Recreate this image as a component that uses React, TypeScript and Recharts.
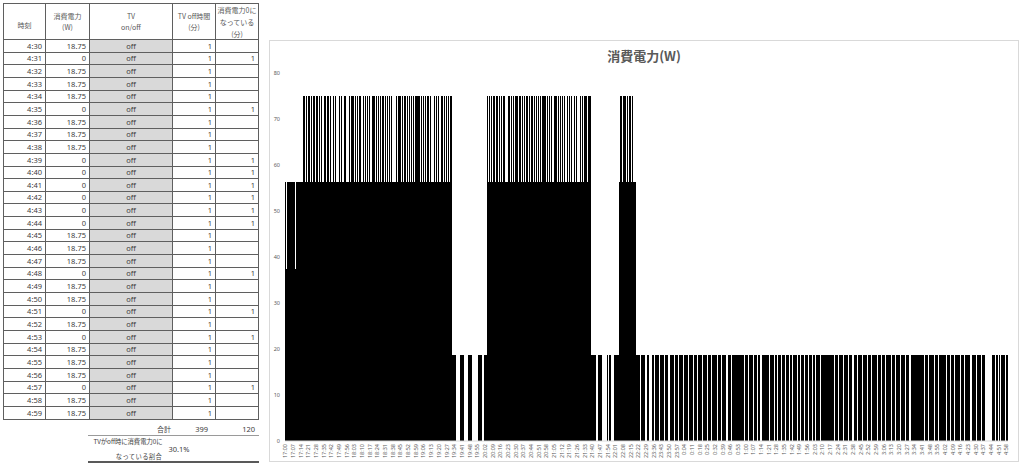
import React from 'react';
import { BarChart, Bar, XAxis, YAxis } from 'recharts';

// 消費電力(W) per minute (the meter steps in 18.75 W)
const w1700 = [
  56.25, 37.5, 56.25, 56.25, 56.25, 56.25, 56.25, 56.25, 56.25, 37.5,
  56.25, 56.25, 56.25, 56.25, 56.25, 56.25, 75, 75, 56.25, 75,
  56.25, 75, 75, 56.25, 75, 56.25, 75, 56.25, 75, 75,
  56.25, 75, 56.25, 75, 56.25, 56.25, 75, 56.25, 75, 75,
  56.25, 75, 56.25, 56.25, 75, 56.25, 75, 56.25, 56.25, 75,
  56.25, 75, 56.25, 56.25, 75, 75, 56.25, 56.25, 75, 56.25,
];
const w1800 = [
  75, 75, 75, 56.25, 75, 56.25, 75, 56.25, 75, 56.25,
  56.25, 75, 56.25, 75, 56.25, 75, 56.25, 75, 56.25, 75,
  75, 75, 56.25, 75, 56.25, 75, 56.25, 75, 56.25, 75,
  56.25, 75, 56.25, 75, 56.25, 75, 56.25, 75, 56.25, 56.25,
  56.25, 75, 56.25, 75, 75, 75, 56.25, 75, 56.25, 75,
  56.25, 75, 56.25, 75, 56.25, 75, 56.25, 75, 56.25, 75,
];
const w1900 = [
  75, 75, 75, 56.25, 75, 56.25, 75, 56.25, 75, 56.25,
  75, 56.25, 75, 56.25, 56.25, 56.25, 75, 56.25, 75, 56.25,
  75, 56.25, 75, 75, 56.25, 75, 56.25, 75, 56.25, 75,
  56.25, 75, 18.75, 18.75, 18.75, 18.75, 0, 0, 0, 0,
  18.75, 18.75, 18.75, 0, 0, 0, 0, 18.75, 18.75, 18.75,
  18.75, 0, 0, 0, 0, 0, 18.75, 18.75, 18.75, 18.75,
];
const w2000 = [
  0, 0, 18.75, 18.75, 75, 56.25, 75, 56.25, 75, 56.25,
  75, 75, 56.25, 75, 56.25, 75, 56.25, 75, 56.25, 75,
  75, 56.25, 56.25, 56.25, 75, 56.25, 75, 56.25, 75, 56.25,
  75, 75, 75, 56.25, 75, 56.25, 75, 56.25, 75, 56.25,
  75, 75, 56.25, 75, 56.25, 75, 56.25, 75, 56.25, 75,
  56.25, 75, 56.25, 75, 56.25, 75, 75, 75, 56.25, 75,
];
const w2100 = [
  56.25, 75, 56.25, 75, 56.25, 56.25, 75, 75, 56.25, 75,
  56.25, 75, 56.25, 75, 56.25, 75, 56.25, 75, 56.25, 75,
  56.25, 75, 56.25, 56.25, 75, 56.25, 75, 56.25, 56.25, 75,
  56.25, 75, 56.25, 75, 75, 75, 56.25, 75, 75, 18.75,
  18.75, 18.75, 18.75, 18.75, 0, 0, 18.75, 18.75, 18.75, 0,
  0, 0, 0, 0, 18.75, 0, 18.75, 18.75, 0, 0,
];
// 22:00 - 22:35, then the log jumps to 23:36
const w2200 = [
  18.75, 18.75, 18.75, 18.75, 18.75, 56.25, 75, 75, 56.25, 75,
  75, 56.25, 75, 56.25, 75, 75, 56.25, 75, 56.25, 56.25,
  18.75, 18.75, 18.75, 18.75, 0, 18.75, 18.75, 18.75, 18.75, 0,
  18.75, 18.75, 0, 0, 0, 18.75,
];
const w2336 = [
  18.75, 0, 18.75, 18.75, 18.75, 0, 18.75, 18.75, 18.75, 18.75,
  0, 18.75, 18.75, 18.75, 0, 18.75, 18.75, 18.75, 18.75, 0,
  18.75, 18.75, 18.75, 0,
];
const w0000 = [
  18.75, 18.75, 18.75, 0, 18.75, 18.75, 18.75, 18.75, 0, 18.75,
  18.75, 18.75, 0, 18.75, 18.75, 18.75, 0, 18.75, 18.75, 18.75,
  18.75, 0, 18.75, 18.75, 18.75, 0, 18.75, 18.75, 18.75, 0,
  18.75, 18.75, 18.75, 18.75, 0, 18.75, 18.75, 18.75, 0, 18.75,
  18.75, 18.75, 18.75, 0, 18.75, 18.75, 18.75, 0, 18.75, 18.75,
  18.75, 18.75, 18.75, 18.75, 18.75, 18.75, 18.75, 18.75, 18.75, 0,
];
const w0100 = [
  18.75, 18.75, 18.75, 0, 18.75, 18.75, 18.75, 0, 18.75, 18.75,
  18.75, 0, 18.75, 18.75, 0, 18.75, 18.75, 18.75, 18.75, 18.75,
  18.75, 18.75, 0, 18.75, 18.75, 18.75, 0, 18.75, 18.75, 0,
  18.75, 18.75, 18.75, 0, 18.75, 18.75, 0, 18.75, 18.75, 18.75,
  0, 18.75, 18.75, 0, 18.75, 18.75, 18.75, 0, 18.75, 18.75,
  0, 18.75, 18.75, 18.75, 0, 18.75, 18.75, 0, 18.75, 18.75,
];
const w0200 = [
  18.75, 0, 18.75, 18.75, 0, 18.75, 18.75, 18.75, 0, 18.75,
  18.75, 18.75, 18.75, 18.75, 18.75, 18.75, 18.75, 18.75, 18.75, 18.75,
  18.75, 0, 18.75, 18.75, 18.75, 0, 18.75, 18.75, 18.75, 0,
  18.75, 18.75, 18.75, 18.75, 0, 18.75, 18.75, 18.75, 0, 18.75,
  18.75, 18.75, 0, 18.75, 18.75, 18.75, 18.75, 0, 18.75, 18.75,
  18.75, 0, 18.75, 18.75, 18.75, 0, 18.75, 18.75, 18.75, 18.75,
];
const w0300 = [
  0, 18.75, 18.75, 18.75, 0, 18.75, 18.75, 18.75, 0, 18.75,
  18.75, 18.75, 18.75, 0, 18.75, 18.75, 18.75, 0, 18.75, 18.75,
  18.75, 0, 18.75, 18.75, 18.75, 18.75, 0, 18.75, 18.75, 18.75,
  0, 18.75, 18.75, 18.75, 18.75, 18.75, 18.75, 18.75, 18.75, 18.75,
  18.75, 18.75, 18.75, 0, 18.75, 18.75, 18.75, 0, 18.75, 18.75,
  18.75, 18.75, 0, 18.75, 18.75, 18.75, 0, 18.75, 18.75, 18.75,
];
const w0400 = [
  18.75, 18.75, 18.75, 0, 18.75, 18.75, 18.75, 0, 18.75, 18.75,
  18.75, 0, 18.75, 18.75, 18.75, 18.75, 0, 18.75, 18.75, 18.75,
  0, 18.75, 18.75, 18.75, 18.75, 0, 0, 18.75, 18.75, 18.75,
  18.75, 0, 18.75, 18.75, 18.75, 0, 18.75, 18.75, 18.75, 0,
  0, 0, 0, 0, 0, 18.75, 18.75, 18.75, 0, 18.75,
  18.75, 0, 18.75, 0, 18.75, 18.75, 18.75, 0, 18.75, 18.75,
];

const segments = [
  { start: '17:00', values: w1700 },
  { start: '18:00', values: w1800 },
  { start: '19:00', values: w1900 },
  { start: '20:00', values: w2000 },
  { start: '21:00', values: w2100 },
  { start: '22:00', values: w2200 },
  { start: '23:36', values: w2336 },
  { start: '0:00', values: w0000 },
  { start: '1:00', values: w0100 },
  { start: '2:00', values: w0200 },
  { start: '3:00', values: w0300 },
  { start: '4:00', values: w0400 },
];

const yTicks = [0, 10, 20, 30, 40, 50, 60, 70, 80];

const tableHeaders = [
  ['時刻'],
  ['消費電力', '(W)'],
  ['TV', 'on/off'],
  ['TV off時間', '(分)'],
  ['消費電力0に', 'なっている', '(分)'],
];
const offMinutesTotal = 399;
const zeroMinutesTotal = 120;
const zeroRatio = '30.1%';

function minuteLabels(start: string, n: number) {
  const [h0, m0] = start.split(':').map(Number);
  return Array.from({ length: n }, (_, i) => {
    const tot = h0 * 60 + m0 + i;
    return `${Math.floor(tot / 60) % 24}:${String(tot % 60).padStart(2, '0')}`;
  });
}

const data = segments.flatMap((s) =>
  minuteLabels(s.start, s.values.length).map((t, i) => ({ t, w: s.values[i] })),
);
const tableRows = data.slice(-30);

// layout
const CHART_LEFT = 269;
const CHART_TOP = 40;
const CHART_W = 750;
const CHART_H = 422;
const MARGIN = { top: 33, right: 11, bottom: 2, left: 0 };
const Y_AXIS_W = 16;
const PLOT_W = CHART_W - MARGIN.left - MARGIN.right - Y_AXIS_W;
const BAND = PLOT_W / data.length;

const COL_X = [3, 45, 89, 172, 215, 258];
const HEAD_TOP = 3;
const HEAD_BOTTOM = 39;
const ROW_H = 12.65;
const GRID = '#5f5f5f';
const INK = '#404040';
const rowTop = (r: number) => Math.round(HEAD_BOTTOM + r * ROW_H);
const TABLE_BOTTOM = rowTop(tableRows.length);

const MinuteBar = (props: any) => {
  const { x, y, height } = props;
  if (!height) return <g />;
  return <rect x={x} y={y} width={BAND} height={height} fill="#000" shapeRendering="crispEdges" />;
};

const TimeTick = ({ x, y, payload }: any) => (
  <text
    x={x}
    y={y}
    transform={`rotate(-90 ${x} ${y})`}
    textAnchor="end"
    dy="0.35em"
    fontSize={5.5}
    fill="#595959"
    fontFamily="'Noto Sans', sans-serif"
  >
    {payload.value}
  </text>
);

const abs = (left: number, top: number, width: number, height: number): React.CSSProperties => ({
  position: 'absolute', left, top, width, height,
});

function Table() {
  const lines: React.ReactNode[] = [];
  [HEAD_TOP, HEAD_BOTTOM, ...tableRows.map((_, r) => rowTop(r + 1))].forEach((y, i) => {
    lines.push(<div key={`h${i}`} style={{ ...abs(COL_X[0], y, COL_X[5] - COL_X[0] + 1, 1), background: GRID }} />);
  });
  COL_X.forEach((x, i) => {
    lines.push(<div key={`v${i}`} style={{ ...abs(x, HEAD_TOP, 1, TABLE_BOTTOM - HEAD_TOP), background: GRID }} />);
  });

  const cellText = (c: number, r: number, text: string, align: 'right' | 'center', bg?: string) => {
    const top = rowTop(r);
    const h = rowTop(r + 1) - top;
    return (
      <div
        key={`c${r}-${c}`}
        style={{
          ...abs(COL_X[c] + 1, top + 1, COL_X[c + 1] - COL_X[c] - 1, h - 1),
          background: bg, textAlign: align, lineHeight: `${h - 1}px`,
          paddingRight: align === 'right' ? 3 : 0, boxSizing: 'border-box',
          fontSize: 7.5, color: INK, fontFamily: "'Noto Sans', sans-serif",
        }}
      >
        {text}
      </div>
    );
  };

  return (
    <>
      {tableRows.map((row, r) => (
        <React.Fragment key={row.t}>
          {cellText(0, r, row.t, 'right')}
          {cellText(1, r, String(row.w), 'right')}
          {cellText(2, r, 'off', 'center', '#d9d9d9')}
          {cellText(3, r, '1', 'right')}
          {cellText(4, r, row.w === 0 ? '1' : '', 'right')}
        </React.Fragment>
      ))}
      {tableHeaders.map((lns, c) => (
        <div
          key={`hd${c}`}
          style={{
            ...abs(COL_X[c] + 1, HEAD_TOP + 1, COL_X[c + 1] - COL_X[c] - 1, HEAD_BOTTOM - HEAD_TOP - 1),
            display: 'flex', flexDirection: 'column', justifyContent: 'center', alignItems: 'center',
            paddingTop: lns.length === 1 ? 8 : 0, boxSizing: 'border-box',
            fontSize: 7, lineHeight: lns.length === 3 ? '12px' : '11px', color: '#595959',
          }}
        >
          {lns.map((l) => <div key={l}>{l}</div>)}
        </div>
      ))}
      {lines}
      <div style={{ ...abs(COL_X[2], TABLE_BOTTOM + 4, COL_X[3] - COL_X[2] - 1, 12), textAlign: 'right', fontSize: 7, lineHeight: '12px', color: INK }}>合計</div>
      <div style={{ ...abs(COL_X[3], TABLE_BOTTOM + 4, COL_X[4] - COL_X[3] - 7, 12), textAlign: 'right', fontSize: 7.5, lineHeight: '12px', color: INK, fontFamily: "'Noto Sans', sans-serif" }}>{offMinutesTotal}</div>
      <div style={{ ...abs(COL_X[4], TABLE_BOTTOM + 4, COL_X[5] - COL_X[4] - 3, 12), textAlign: 'right', fontSize: 7.5, lineHeight: '12px', color: INK, fontFamily: "'Noto Sans', sans-serif" }}>{zeroMinutesTotal}</div>
      <div style={{ ...abs(88, 435, 171, 1), background: '#9a9a9a' }} />
      <div style={{ ...abs(78, 436, 100, 12), textAlign: 'center', fontSize: 6.3, lineHeight: '12px', color: INK }}>TVがoff時に消費電力0に</div>
      <div style={{ ...abs(89, 451, 100, 12), textAlign: 'center', fontSize: 6.3, lineHeight: '12px', color: INK, letterSpacing: 0.4 }}>なっている割合</div>
      <div style={{ ...abs(159, 443, 40, 12), textAlign: 'center', fontSize: 7.5, lineHeight: '12px', color: INK, fontFamily: "'Noto Sans', sans-serif" }}>{zeroRatio}</div>
      <div style={{ ...abs(88, 461, 171, 2), background: '#595959' }} />
    </>
  );
}

export default function App() {
  return (
    <div
      style={{
        position: 'relative', width: 1024, height: 468, background: '#fff', overflow: 'hidden',
        fontFamily: "'Noto Sans CJK JP', 'Noto Sans', sans-serif",
      }}
    >
      <style>{'body{margin:0}'}</style>
      <Table />
      <div style={{ ...abs(CHART_LEFT, CHART_TOP, CHART_W, CHART_H), border: '1px solid #d9d9d9', boxSizing: 'border-box' }} />
      <div
        style={{
          ...abs(CHART_LEFT, 47, CHART_W, 18), textAlign: 'center', fontSize: 13, fontWeight: 700,
          lineHeight: '18px', color: '#595959',
        }}
      >
        消費電力(W)
      </div>
      <div style={abs(CHART_LEFT, CHART_TOP, CHART_W, CHART_H)}>
        <BarChart width={CHART_W} height={CHART_H} data={data} margin={MARGIN} barCategoryGap={0} barGap={0}>
          <XAxis
            dataKey="t"
            interval={6}
            height={19}
            tickLine={false}
            tickSize={0}
            tickMargin={3}
            axisLine={{ stroke: '#d9d9d9' }}
            tick={<TimeTick />}
          />
          <YAxis
            domain={[0, 80]}
            ticks={yTicks}
            width={Y_AXIS_W}
            axisLine={false}
            tickLine={false}
            tickSize={0}
            tickMargin={5}
            tick={{ fontSize: 5.5, fill: '#595959', fontFamily: "'Noto Sans', sans-serif" }}
          />
          <Bar dataKey="w" fill="#000" isAnimationActive={false} shape={MinuteBar} />
        </BarChart>
      </div>
    </div>
  );
}
